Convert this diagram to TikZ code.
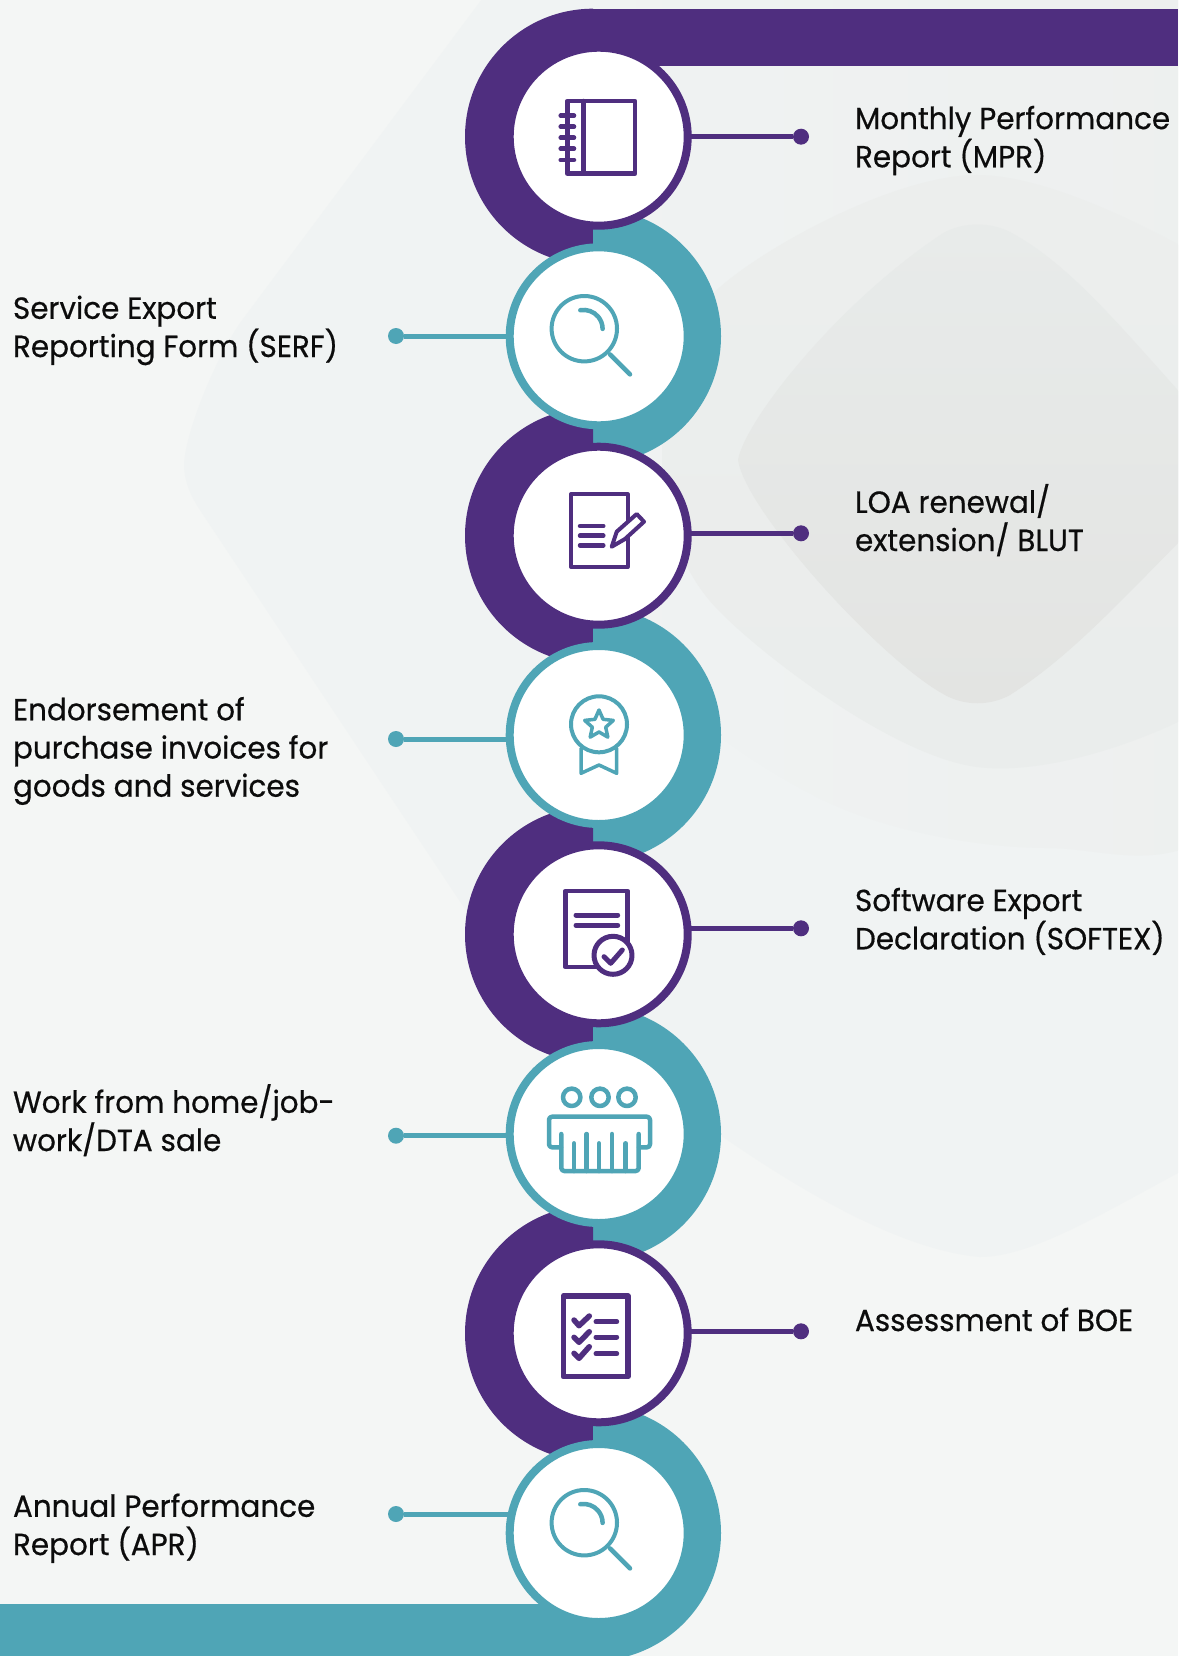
\documentclass[tikz,border=0pt]{standalone}
\usepackage{fontspec}
\setmainfont[FakeStretch=0.965,FakeBold=0.5]{Poppins}
\definecolor{pur}{HTML}{4F2E7F}
\definecolor{tea}{HTML}{4FA5B6}
\definecolor{bgA}{HTML}{F4F6F5}
\definecolor{bgB}{HTML}{F0F3F3}
\definecolor{bgC}{HTML}{ECEEED}
\definecolor{bgD}{HTML}{EAEDEC}
\definecolor{bgF}{HTML}{E8EBEA}
\definecolor{bgG}{HTML}{E3E4E2}
\definecolor{ink}{HTML}{0C0C0C}
\tikzset{
  ringnode/.style={circle,draw=#1,line width=8pt,fill=white,minimum size=178pt,inner sep=0pt,outer sep=0pt},
  dotnode/.style={circle,fill=#1,minimum size=16pt,inner sep=0pt,outer sep=0pt},
  leader/.style={draw=#1,line width=5pt,shorten >=-3pt},
  lab/.style={anchor=base west,align=left,inner sep=0pt,outer sep=0pt,text=ink,font=\fontsize{30.5}{38.2}\selectfont},
  icon/.style={draw=#1,line width=4.5pt,line join=round,line cap=round},
}
\newcommand{\halfL}[1]{\fill[pur] (593,#1-128) arc[start angle=90,end angle=270,radius=128pt] -- cycle;}
\newcommand{\halfR}[1]{\fill[tea] (593,#1-128) arc[start angle=90,end angle=-90,radius=128pt] -- cycle;}
\newcommand{\magnif}[2]{%
  \draw[icon=tea,line width=4pt] (#1,#2) circle[radius=32.7pt];
  \draw[icon=tea] (#1-4,#2-18.5) arc[start angle=100,end angle=0,radius=19pt];
  \draw[icon=tea] (#1+25.7,#2+25.7) -- (#1+45.7,#2+45.7);}
\begin{document}
\begin{tikzpicture}[x=1pt,y=-1pt]
\useasboundingbox (0,0) rectangle (1178,1656);
\clip (0,0) rectangle (1178,1656);
% background
\fill[bgA] (0,0) rectangle (1178,1656);
\fill[bgB] (184,464) .. controls (186,430) and (215,360) .. (240,323) -- (500,-25) -- (1300,-25) -- (1300,1100) -- (1178,1173) .. controls (1100,1215) and (1030,1257) .. (980,1257) .. controls (900,1250) and (800,1190) .. (723,1137) -- (467,912) -- (200,510) .. controls (190,495) and (184,480) .. (184,464) -- cycle;
\shade[left color=bgB,right color=bgC] plot[smooth cycle,tension=0.55] coordinates {(560,400) (620,-60) (1100,-60) (1500,300) (1250,800) (1047,848) (823,800) (620,640)};
\shade[top color=bgC,bottom color=bgD] plot[smooth cycle,tension=0.55] coordinates {(662,450) (720,287) (977,175) (1250,287) (1400,450) (1250,680) (977,767) (720,612)};
\shade[top color=bgF,bottom color=bgG] (738,460) .. controls (745,420) and (840,300) .. (945,232) .. controls (965,222) and (990,222) .. (1010,232) .. controls (1080,270) and (1130,340) .. (1250,470) .. controls (1130,590) and (1080,650) .. (1010,695) .. controls (990,706) and (965,706) .. (945,695) .. controls (880,660) and (745,510) .. (738,460) -- cycle;
% spine
\fill[pur] (593,9) rectangle (1178,66);
\fill[tea] (0,1604.3) rectangle (593,1670);
\halfL{136.7}\halfR{336.3}\halfL{535.7}\halfR{735}\halfL{934.3}\halfR{1134}\halfL{1333.3}\halfR{1533}
% rings
\node[ringnode=pur] (c1) at (598.7,136.7) {};
\node[ringnode=tea] (c2) at (598.7,336.3) {};
\node[ringnode=pur] (c3) at (598.7,535.7) {};
\node[ringnode=tea] (c4) at (598.7,735) {};
\node[ringnode=pur] (c5) at (598.7,934.3) {};
\node[ringnode=tea] (c6) at (598.7,1134) {};
\node[ringnode=pur] (c7) at (598.7,1333.3) {};
\node[ringnode=tea] (c8) at (598.7,1533) {};
% end dots
\node[dotnode=pur] (d1) at (801,136.7) {};
\node[dotnode=tea] (d2) at (396,336) {};
\node[dotnode=pur] (d3) at (801,533.3) {};
\node[dotnode=tea] (d4) at (396,739) {};
\node[dotnode=pur] (d5) at (801,928.3) {};
\node[dotnode=tea] (d6) at (396,1135.7) {};
\node[dotnode=pur] (d7) at (801,1331.3) {};
\node[dotnode=tea] (d8) at (396,1514) {};
% connectors
\draw[leader=pur] (d1) -- (c1.east |- d1);
\draw[leader=tea] (d2) -- (c2.west |- d2);
\draw[leader=pur] (d3) -- (c3.east |- d3);
\draw[leader=tea] (d4) -- (c4.west |- d4);
\draw[leader=pur] (d5) -- (c5.east |- d5);
\draw[leader=tea] (d6) -- (c6.west |- d6);
\draw[leader=pur] (d7) -- (c7.east |- d7);
\draw[leader=tea,shorten >=-5pt] (d8) -- (c8.west |- d8);
% labels
\node[lab] (t1) at (855,167.3) {Monthly Performance\\Report (MPR)};
\node[lab] (t2) at (13,357) {Service Export\\Reporting Form (SERF)};
\node[lab] (t3) at (855,551) {LOA renewal/\\extension/ BLUT};
\node[lab] (t4) at (13,796.7) {Endorsement of\\purchase invoices for\\goods and services};
\node[lab] (t5) at (855,949.3) {Software Export\\Declaration (SOFTEX)};
\node[lab] (t6) at (13,1151) {Work from home/job-\\work/DTA sale};
\node[lab] (t7) at (855,1331) {Assessment of BOE};
\node[lab] (t8) at (13,1555) {Annual Performance\\Report (APR)};
% icon 1: notebook
\draw[icon=pur] (567.3,101) rectangle (635,173.7);
\draw[icon=pur] (583.3,101) -- (583.3,173.7);
\foreach \yy in {115.7,126.7,137.7,148.7,160}{\draw[icon=pur] (560.7,\yy) -- (574,\yy);}
% icon 2 and 8: magnifier
\magnif{584.3}{328.7}
\magnif{584.3}{1522.7}
% icon 3: page and pen
\draw[icon=pur,line width=4pt] (571,494.3) rectangle (627.7,567);
\foreach \yy in {526,535.7,545.3}{\draw[icon=pur] (580,\yy) -- (603.3,\yy);}
\draw[icon=pur,line width=4pt,fill=white] (611.7,546.7) -- (616.7,531.7) -- (636.7,514) -- (644,521.7) -- (625,539) -- cycle;
% icon 4: medal
\draw[icon=tea,line width=3.5pt] (581,748.3) -- (581,773.3) -- (599,765) -- (616.7,773.3) -- (616.7,748.3);
\draw[icon=tea,line width=4pt,fill=white] (599,724.3) circle[radius=28pt];
\begin{scope}[shift={(599,725)}]
\draw[icon=tea,line width=3.5pt] (0,-15) -- (4.1,-5.7) -- (14.3,-4.6) -- (6.7,2.2) -- (8.8,12.1) -- (0,7) -- (-8.8,12.1) -- (-6.7,2.2) -- (-14.3,-4.6) -- (-4.1,-5.7) -- cycle;
\end{scope}
% icon 5: page with seal
\draw[icon=pur] (565.3,891) rectangle (627.7,967);
\draw[icon=pur,line width=5pt] (576,915) -- (617.7,915);
\draw[icon=pur,line width=5pt] (576,925.3) -- (617.7,925.3);
\draw[icon=pur,line width=5pt,fill=white] (613,955.3) circle[radius=19pt];
\draw[icon=pur,line width=5pt] (604,956.7) -- (610.7,963.3) -- (622.3,950);
% icon 6: people and comb
\draw[icon=tea] (571.7,1097.3) circle[radius=8.7pt];
\draw[icon=tea] (600,1097.3) circle[radius=8.7pt];
\draw[icon=tea] (627,1097.3) circle[radius=8.7pt];
\draw[icon=tea,rounded corners=3pt] (561,1147.3) -- (549,1147.3) -- (549,1116.7) -- (650,1116.7) -- (650,1147.3) -- (639,1147.3);
\draw[icon=tea,rounded corners=3pt] (561.3,1134) -- (561.3,1171) -- (638.7,1171) -- (638.7,1134);
\foreach \xx/\yy in {574/1143.3,586.7/1134,599/1143.3,612/1134,625.7/1143.3}{\draw[icon=tea] (\xx,\yy) -- (\xx,1171);}
% icon 7: checklist
\draw[icon=pur,line width=5.5pt] (563.3,1296) rectangle (628,1376.7);
\foreach \yy in {1321.7,1337,1353.7}{\draw[icon=pur,line width=5pt] (596,\yy) -- (616.7,\yy);}
\draw[icon=pur,line width=5.5pt] (574,1320) -- (579,1325.7) -- (589.3,1316);
\draw[icon=pur,line width=5.5pt] (574,1337.3) -- (579,1342.3) -- (589.3,1331.7);
\draw[icon=pur,line width=5.5pt] (574,1353.3) -- (579,1358.3) -- (589.3,1346.7);
\end{tikzpicture}
\end{document}
